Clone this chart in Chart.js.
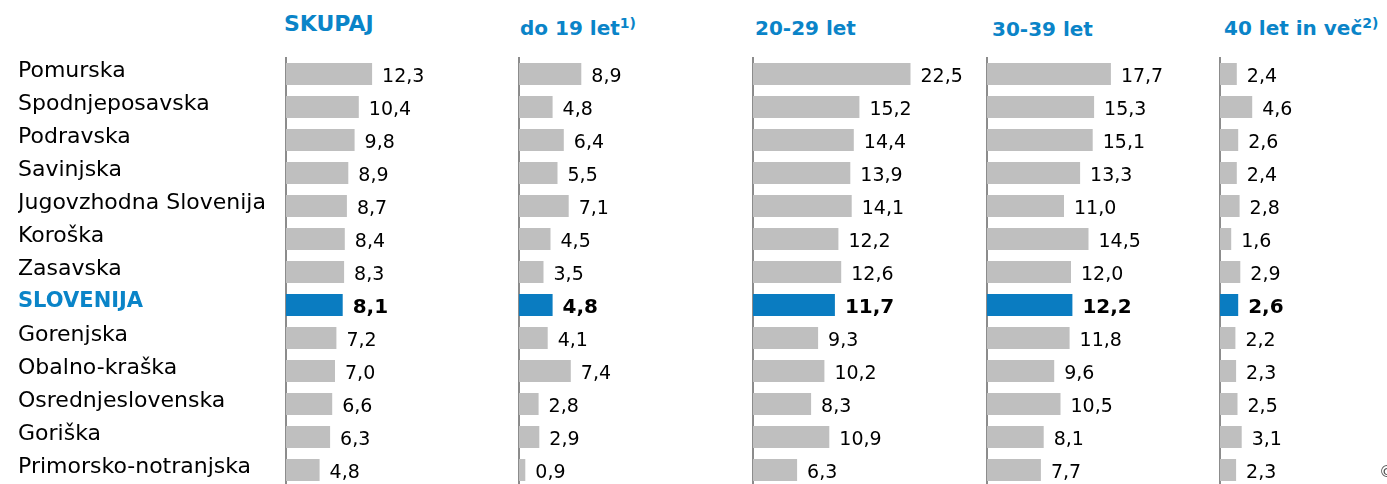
<!DOCTYPE html>
<html><head><meta charset="utf-8">
<script src="https://cdn.jsdelivr.net/npm/chart.js@4"></script>
<style>
html,body{margin:0;padding:0;background:#fff;}
body{width:1387px;height:484px;overflow:hidden;position:relative;font-family:'DejaVu Sans',sans-serif;}
.t{position:absolute;color:#0a84c8;font-weight:bold;font-size:20px;white-space:nowrap;line-height:1;}
.t sup{font-size:14px;vertical-align:7px;line-height:0;}
canvas{position:absolute;top:0;}
.copy{position:absolute;left:1379px;top:462px;font-size:16px;color:#555;}
</style></head><body>
<div class="t" style="left:284px;top:13px;font-size:22px">SKUPAJ</div>
<div class="t" style="left:520px;top:18px">do 19 let<sup>1)</sup></div>
<div class="t" style="left:755px;top:18px">20-29 let</div>
<div class="t" style="left:992px;top:19px">30-39 let</div>
<div class="t" style="left:1224px;top:18px">40 let in več<sup>2)</sup></div>
<canvas id="c0" width="519" height="500" style="left:0px"></canvas>
<canvas id="c1" width="244" height="500" style="left:509px"></canvas>
<canvas id="c2" width="244" height="500" style="left:743px"></canvas>
<canvas id="c3" width="243" height="500" style="left:977px"></canvas>
<canvas id="c4" width="177" height="500" style="left:1210px"></canvas>
<div class="copy">©</div>
<script>
const categories = ["Pomurska","Spodnjeposavska","Podravska","Savinjska","Jugovzhodna Slovenija","Koroška","Zasavska","SLOVENIJA","Gorenjska","Obalno-kraška","Osrednjeslovenska","Goriška","Primorsko-notranjska"];
const skupaj = [12.3,10.4,9.8,8.9,8.7,8.4,8.3,8.1,7.2,7.0,6.6,6.3,4.8];
const do19 = [8.9,4.8,6.4,5.5,7.1,4.5,3.5,4.8,4.1,7.4,2.8,2.9,0.9];
const let2029 = [22.5,15.2,14.4,13.9,14.1,12.2,12.6,11.7,9.3,10.2,8.3,10.9,6.3];
const let3039 = [17.7,15.3,15.1,13.3,11.0,14.5,12.0,12.2,11.8,9.6,10.5,8.1,7.7];
const let40 = [2.4,4.6,2.6,2.4,2.8,1.6,2.9,2.6,2.2,2.3,2.5,3.1,2.3];
const highlight = "SLOVENIJA";

const GREY = '#bfbfbf', BLUE = '#0a7cc1', AXIS = '#8c8c8c';
const FONT = "'DejaVu Sans', sans-serif";
const PX_PER_UNIT = 7;

const valueLabels = {
  id: 'valueLabels',
  afterDatasetsDraw(chart) {
    const ctx = chart.ctx;
    const meta = chart.getDatasetMeta(0);
    const data = chart.data.datasets[0].data;
    ctx.save();
    ctx.textBaseline = 'middle';
    ctx.textAlign = 'left';
    meta.data.forEach((el, i) => {
      const hl = chart.data.labels[i] === highlight;
      ctx.font = hl ? 'bold 20px ' + FONT : '19px ' + FONT;
      ctx.fillStyle = '#000';
      ctx.fillText(data[i].toFixed(1).replace('.', ','), el.x + 10, el.y + 3);
    });
    ctx.restore();
  }
};

function makeChart(id, values, withLabels) {
  const canvas = document.getElementById(id);
  const padLeft = withLabels ? 18 : 8;
  const axisW = withLabels ? 268 : 2;
  const plotW = canvas.width - padLeft - axisW;
  new Chart(canvas, {
    type: 'bar',
    data: {
      labels: categories,
      datasets: [{
        data: values,
        backgroundColor: categories.map(c => c === highlight ? BLUE : GREY),
        borderWidth: 0,
        barPercentage: 0.67,
        categoryPercentage: 1
      }]
    },
    options: {
      indexAxis: 'y',
      responsive: false,
      animation: false,
      events: [],
      layout: { padding: { left: padLeft, right: 0, top: 57.5, bottom: 13.5 } },
      plugins: { legend: { display: false }, tooltip: { enabled: false }, title: { display: false } },
      scales: {
        x: { type: 'linear', min: 0, max: plotW / PX_PER_UNIT, display: false },
        y: {
          type: 'category',
          offset: true,
          grid: { display: false },
          border: { display: true, color: AXIS, width: 2 },
          afterFit: s => { s.width = axisW; },
          ticks: {
            display: withLabels,
            crossAlign: 'far',
            padding: 0,
            labelOffset: -3,
            color: ctx => categories[ctx.index] === highlight ? '#0a84c8' : '#000',
            font: ctx => ({ family: FONT, size: categories[ctx.index] === highlight ? 21 : 22, weight: categories[ctx.index] === highlight ? 'bold' : 'normal' })
          }
        }
      }
    },
    plugins: [valueLabels]
  });
}

makeChart('c0', skupaj, true);
makeChart('c1', do19, false);
makeChart('c2', let2029, false);
makeChart('c3', let3039, false);
makeChart('c4', let40, false);
</script>
</body></html>
